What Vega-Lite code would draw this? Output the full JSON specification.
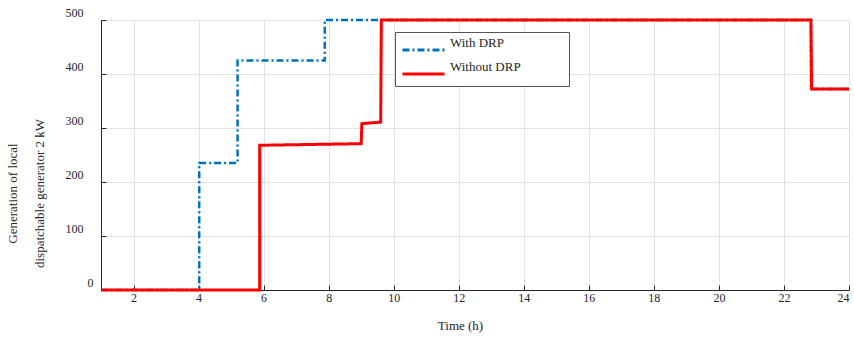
{
  "$schema": "https://vega.github.io/schema/vega-lite/v6.json",
  "width": 748,
  "height": 270,
  "autosize": {"type": "none"},
  "padding": {"left": 101, "top": 20, "right": 5, "bottom": 50},
  "background": "white",
  "config": {
    "font": "Liberation Serif",
    "view": {"stroke": "#e6e6e6"},
    "axis": {
      "labelFont": "Liberation Serif",
      "titleFont": "Liberation Serif",
      "labelFontSize": 12,
      "titleFontSize": 13,
      "labelColor": "#262626",
      "titleColor": "#262626",
      "titleFontWeight": "normal",
      "gridColor": "#e3e3e3",
      "gridWidth": 1,
      "domainColor": "#262626",
      "tickColor": "#262626"
    }
  },
  "data": {
    "values": [
      {"t": 1, "p": 0, "s": "With DRP", "i": 0},
      {"t": 4.02, "p": 0, "s": "With DRP", "i": 1},
      {"t": 4.02, "p": 235, "s": "With DRP", "i": 2},
      {"t": 5.2, "p": 235, "s": "With DRP", "i": 3},
      {"t": 5.2, "p": 425, "s": "With DRP", "i": 4},
      {"t": 7.88, "p": 425, "s": "With DRP", "i": 5},
      {"t": 7.88, "p": 500, "s": "With DRP", "i": 6},
      {"t": 22.83, "p": 500, "s": "With DRP", "i": 7},
      {"t": 22.83, "p": 372, "s": "With DRP", "i": 8},
      {"t": 24, "p": 372, "s": "With DRP", "i": 9},
      {"t": 1, "p": 0, "s": "Without DRP", "i": 0},
      {"t": 5.88, "p": 0, "s": "Without DRP", "i": 1},
      {"t": 5.88, "p": 268, "s": "Without DRP", "i": 2},
      {"t": 9.0, "p": 271, "s": "Without DRP", "i": 3},
      {"t": 9.02, "p": 308, "s": "Without DRP", "i": 4},
      {"t": 9.6, "p": 311, "s": "Without DRP", "i": 5},
      {"t": 9.62, "p": 500, "s": "Without DRP", "i": 6},
      {"t": 22.83, "p": 500, "s": "Without DRP", "i": 7},
      {"t": 22.85, "p": 372, "s": "Without DRP", "i": 8},
      {"t": 24, "p": 372, "s": "Without DRP", "i": 9}
    ]
  },
  "encoding": {
    "x": {
      "field": "t", "type": "quantitative",
      "scale": {"domain": [1, 24], "nice": false, "zero": false},
      "axis": {
        "values": [2, 4, 6, 8, 10, 12, 14, 16, 18, 20, 22, 24],
        "title": "Time (h)",
        "tickSize": -5,
        "labelPadding": 7,
        "titlePadding": 16,
        "titleX": 359
      }
    },
    "y": {
      "field": "p", "type": "quantitative",
      "scale": {"domain": [0, 500], "nice": false},
      "axis": {
        "values": [0, 100, 200, 300, 400, 500],
        "title": ["Generation of local", "dispatchable generator 2 kW"],
        "titleLineHeight": 27,
        "titleY": 173,
        "tickSize": -5,
        "labelPadding": {"condition": {"test": "datum.value == 0", "value": 13}, "value": 23},
        "labelOffset": -8,
        "titlePadding": 19
      }
    },
    "order": {"field": "i", "type": "quantitative"},
    "color": {
      "field": "s", "type": "nominal",
      "scale": {"domain": ["With DRP", "Without DRP"], "range": ["#0072BD", "#FF0000"]},
      "legend": {
        "title": null,
        "orient": "none",
        "legendX": 294,
        "legendY": 12,
        "symbolType": "M-1,0H3",
        "symbolSize": 441,
        "symbolStrokeWidth": 3,
        "labelFont": "Liberation Serif",
        "labelFontSize": 13,
        "labelColor": "#262626",
        "labelBaseline": "bottom",
        "rowPadding": 5,
        "padding": 6,
        "strokeColor": "#555555",
        "fillColor": "white",
        "labelLimit": 300,
        "labelOffset": 25,
        "labelExpr": "datum.label + '             \u200b'"
      }
    },
    "strokeDash": {
      "field": "s", "type": "nominal",
      "scale": {"domain": ["With DRP", "Without DRP"], "range": [[7, 3, 2, 3], [1, 0]]},
      "legend": null
    }
  },
  "layer": [
    {
      "transform": [{"filter": "datum.s === 'With DRP'"}],
      "mark": {"type": "line", "strokeWidth": 2.5, "clip": false}
    },
    {
      "transform": [{"filter": "datum.s === 'Without DRP'"}],
      "mark": {"type": "line", "strokeWidth": 3, "clip": false}
    }
  ]
}
